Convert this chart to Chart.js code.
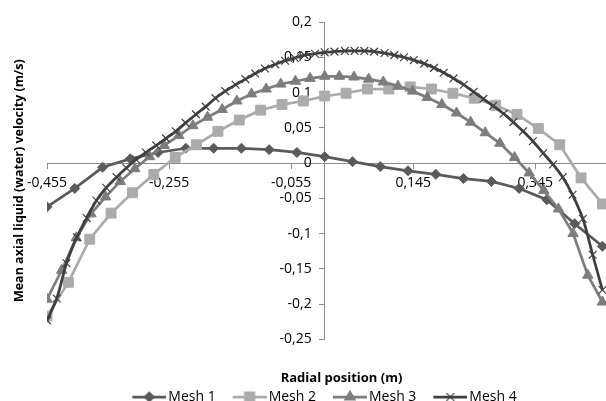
<!DOCTYPE html>
<html>
<head>
<meta charset="utf-8">
<script src="https://cdn.jsdelivr.net/npm/chart.js@4.4.0/dist/chart.umd.min.js"></script>
<style>
html,body{margin:0;padding:0;background:#ffffff;}
canvas{display:block;}
</style>
</head>
<body>
<canvas id="c" width="606" height="401"></canvas>
<script>
// ---- data ----
const seriesNames = ['Mesh 1', 'Mesh 2', 'Mesh 3', 'Mesh 4'];

const mesh1X = [-0.455,-0.4095,-0.364,-0.3185,-0.273,-0.2275,-0.182,-0.1365,-0.091,-0.0455,0,
  0.0455,0.091,0.1365,0.182,0.2275,0.273,0.3185,0.364,0.4095,0.455];
const mesh1Y = [-0.062,-0.036,-0.006,0.006,0.015,0.021,0.021,0.021,0.019,0.015,0.009,
  0.002,-0.005,-0.011,-0.016,-0.022,-0.026,-0.036,-0.052,-0.086,-0.118];

const mesh2X = [-0.455,-0.42,-0.385,-0.35,-0.315,-0.28,-0.245,-0.21,-0.175,-0.14,-0.105,-0.07,-0.035,0,
  0.035,0.07,0.105,0.14,0.175,0.21,0.245,0.28,0.315,0.35,0.385,0.42,0.455];
const mesh2Y = [-0.217,-0.169,-0.108,-0.071,-0.042,-0.016,0.008,0.026,0.045,0.061,0.075,0.083,0.088,0.095,
  0.099,0.105,0.105,0.108,0.105,0.099,0.092,0.082,0.069,0.049,0.026,-0.021,-0.058];

const mesh3X = [-0.455,-0.431,-0.407,-0.383,-0.359,-0.335,-0.311,-0.287,-0.263,-0.239,-0.216,-0.192,-0.168,
  -0.144,-0.12,-0.096,-0.072,-0.048,-0.024,0,0.024,0.048,0.072,0.096,0.12,0.144,0.168,0.192,0.216,0.239,
  0.263,0.287,0.311,0.335,0.359,0.383,0.407,0.431,0.455];
const mesh3Y = [-0.193,-0.152,-0.106,-0.072,-0.048,-0.026,-0.008,0.009,0.025,0.039,0.053,0.065,0.076,
  0.088,0.098,0.105,0.112,0.116,0.12,0.123,0.123,0.122,0.119,0.115,0.109,0.102,0.093,0.083,0.071,0.058,
  0.043,0.028,0.008,-0.014,-0.039,-0.065,-0.1,-0.159,-0.197];

const mesh4X = [-0.455,-0.439,-0.423,-0.406,-0.39,-0.374,-0.358,-0.341,-0.325,-0.309,-0.293,-0.276,-0.26,
  -0.244,-0.228,-0.211,-0.195,-0.179,-0.163,-0.146,-0.13,-0.114,-0.098,-0.081,-0.065,-0.049,-0.033,-0.016,0,
  0.016,0.033,0.049,0.065,0.081,0.098,0.114,0.13,0.146,0.163,0.179,0.195,0.211,0.228,0.244,0.26,0.276,
  0.293,0.309,0.325,0.341,0.358,0.374,0.39,0.406,0.423,0.439,0.455];
const mesh4Y = [-0.223,-0.192,-0.142,-0.105,-0.078,-0.053,-0.035,-0.02,-0.007,0.005,0.015,0.025,0.035,
  0.045,0.057,0.069,0.08,0.092,0.102,0.111,0.119,0.127,0.134,0.14,0.145,0.149,0.153,0.155,0.157,
  0.158,0.159,0.159,0.159,0.158,0.156,0.153,0.15,0.146,0.141,0.135,0.128,0.12,0.111,0.101,0.091,0.081,
  0.07,0.058,0.045,0.031,0.014,-0.002,-0.02,-0.045,-0.079,-0.13,-0.18];

const xTickValues = [-0.455, -0.255, -0.055, 0.145, 0.345];
const xAxisTitle = 'Radial position (m)';
const yAxisTitle = 'Mean axial liquid (water) velocity (m/s)';

// ---- styling ----
const FONT = "'Open Sans', sans-serif";
const AXIS = '#8c8c8c';
const colors = ['#5a5a5a', '#ababab', '#7d7d7d', '#3f3f3f'];
const styles = ['rectRot', 'rect', 'triangle', 'crossRot'];
const radii = [5, 7, 6, 5.5];
const LINE_W = 2.75;
const OVERHANG = 30;   // the plot area runs past the right edge of the picture (cropped original)

function pts(xs, ys) { return xs.map((x, i) => ({x: x, y: ys[i]})); }
function fmt(v) { const r = Math.round(v * 1000) / 1000; return String(r).replace('.', ','); }

function legendIcon(i) {
  const c = document.createElement('canvas');
  c.width = 52; c.height = 16;
  const g = c.getContext('2d');
  g.strokeStyle = colors[i];
  g.lineWidth = LINE_W;
  g.beginPath(); g.moveTo(18, 8); g.lineTo(52, 8); g.stroke();
  g.fillStyle = colors[i];
  g.strokeStyle = colors[i];
  g.lineWidth = 1.2;
  Chart.helpers.drawPoint(g, {pointStyle: styles[i], radius: radii[i], rotation: 0, borderWidth: 1.2}, 35, 8);
  return c;
}

const seriesData = [pts(mesh1X, mesh1Y), pts(mesh2X, mesh2Y), pts(mesh3X, mesh3Y), pts(mesh4X, mesh4Y)];
const datasets = seriesData.map((d, i) => ({
  label: seriesNames[i],
  data: d,
  showLine: true,
  borderColor: colors[i],
  backgroundColor: colors[i],
  borderWidth: LINE_W,
  pointStyle: styles[i],
  pointRadius: radii[i],
  pointBorderWidth: i === 3 ? 1.2 : 1,
  pointBorderColor: colors[i],
  pointBackgroundColor: colors[i],
  tension: i === 3 ? 0.3 : 0,
  order: 4 - i
}));

const icons = [0, 1, 2, 3].map(legendIcon);

// widen the plot area past the canvas edge and re-fit the crossing axes to it
const extendPlot = {
  id: 'extendPlot',
  afterLayout(chart) {
    const ca = chart.chartArea;
    ca.right = chart.width + OVERHANG;
    ca.width = ca.right - ca.left;
    const xs = chart.scales.x, ys = chart.scales.y;
    xs.left = ca.left; xs.right = ca.right; xs.width = ca.width; xs.configure();
    ys.top = ca.top; ys.bottom = ca.bottom; ys.height = ca.height; ys.configure();
    if (chart.titleBlock) {
      chart.titleBlock.left = ca.left;
      chart.titleBlock.right = ca.right;
      chart.titleBlock.width = ca.width;
    }
    // value labels of the crossing y axis sit left of its tick marks
    const shift = ys.options.grid.tickLength + ys.options.ticks.padding;
    const items = ys._computeLabelItems(ca);
    items.forEach(it => {
      const t = it.options.translation;
      it.options.translation = [t[0] - shift, t[1]];
    });
    ys._labelItems = items;
  }
};

new Chart(document.getElementById('c'), {
  type: 'scatter',
  data: {datasets: datasets},
  plugins: [extendPlot],
  options: {
    responsive: false,
    animation: false,
    events: [],
    layout: {padding: {top: 22, right: -OVERHANG, bottom: 0, left: 0}},
    scales: {
      x: {
        type: 'linear',
        position: {y: 0},
        min: -0.455,
        max: 0.51,
        afterBuildTicks: s => { s.ticks = xTickValues.map(v => ({value: v})); },
        grid: {drawOnChartArea: false, drawTicks: true, tickLength: 5, color: AXIS, lineWidth: 1},
        border: {display: true, color: AXIS, width: 1},
        ticks: {font: {family: FONT, size: 14}, color: '#000', padding: 7, maxRotation: 0, autoSkip: false,
          callback: v => fmt(v)}
      },
      y: {
        type: 'linear',
        position: {x: 0},
        min: -0.25,
        max: 0.2,
        grid: {drawOnChartArea: false, drawTicks: true, tickLength: 5, color: AXIS, lineWidth: 1},
        border: {display: true, color: AXIS, width: 1},
        ticks: {stepSize: 0.05, font: {family: FONT, size: 14}, color: '#000', padding: 8, autoSkip: false,
          callback: v => fmt(v)}
      },
      yt: {
        type: 'linear',
        axis: 'y',
        position: 'left',
        min: 0, max: 1,
        grid: {display: false, drawTicks: false},
        border: {display: false},
        ticks: {display: false},
        title: {display: true, text: yAxisTitle, color: '#000',
          font: {family: FONT, size: 12.5, weight: 'bold'}, padding: {top: 12, bottom: 20}}
      }
    },
    plugins: {
      tooltip: {enabled: false},
      title: {
        display: true, text: xAxisTitle, position: 'bottom', fullSize: false, weight: 500,
        color: '#000', font: {family: FONT, size: 13, weight: 'bold'}, padding: {top: 31, bottom: 0}
      },
      legend: {
        position: 'bottom',
        maxHeight: 15,
        labels: {
          usePointStyle: true,
          pointStyleWidth: 42,
          padding: 4,
          color: '#000',
          font: {family: FONT, size: 14},
          sort: (a, b) => a.datasetIndex - b.datasetIndex,
          generateLabels: chart => Chart.defaults.plugins.legend.labels.generateLabels(chart)
            .map(l => Object.assign({}, l, {pointStyle: icons[l.datasetIndex]}))
        }
      }
    }
  }
});
</script>
</body>
</html>
